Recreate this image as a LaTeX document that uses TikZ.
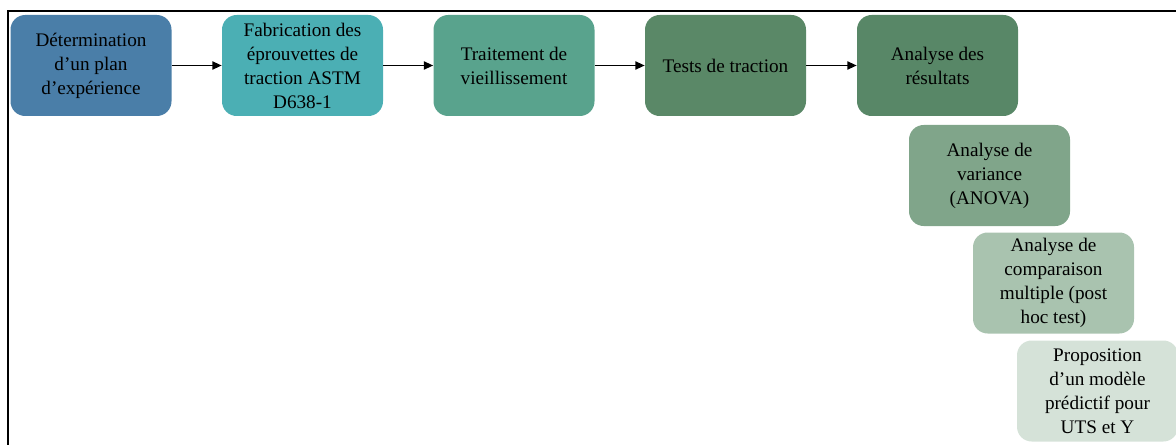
\documentclass[tikz,border=0pt]{standalone}
\usepackage{fontspec}
\setmainfont{Liberation Serif}
\usetikzlibrary{arrows.meta}
\definecolor{cA}{HTML}{4A7EA8}
\definecolor{cB}{HTML}{4BAFB4}
\definecolor{cC}{HTML}{59A38D}
\definecolor{cD}{HTML}{5A8867}
\definecolor{cE}{HTML}{588767}
\definecolor{cF}{HTML}{80A58A}
\definecolor{cG}{HTML}{A9C3AF}
\definecolor{cH}{HTML}{D5E2D8}
\tikzset{
  stepbox/.style={rounded corners=11pt, minimum width=120.75pt, minimum height=75.75pt,
    inner sep=2pt, align=center, text=black,
    font=\fontsize{14.4pt}{18pt}\selectfont},
  flow/.style={line width=1.4pt, -{Triangle[length=7pt,width=6pt]}},
  frame/.style={line width=1.6pt}
}
\begin{document}
\begin{tikzpicture}[x=0.75pt,y=-0.75pt]
\useasboundingbox (0,0) rectangle (1176,445);
% outer frame (top and left edges)
\coordinate (fTR) at (1180,11);
\coordinate (fTL) at (8,11);
\coordinate (fBL) at (8,450);
\draw[frame] (fTR) -- (fTL) -- (fBL);
% main process steps
\node[stepbox, fill=cA] (s1) at (91,65.5) {Détermination\\d’un plan\\d’expérience};
\node[stepbox, fill=cB] (s2) at (302.5,65.5) {Fabrication des\\éprouvettes de\\traction ASTM\\D638-1};
\node[stepbox, fill=cC] (s3) at (514,65.5) {Traitement de\\vieillissement};
\node[stepbox, fill=cD] (s4) at (725.5,65.5) {Tests de traction};
\node[stepbox, fill=cE] (s5) at (937.5,65.5) {Analyse des\\résultats};
% analysis sub-steps
\node[stepbox, fill=cF] (a1) at (989.5,175.5) {Analyse de\\variance\\(ANOVA)};
\node[stepbox, fill=cG] (a2) at (1053.5,283) {Analyse de\\comparaison\\multiple (post\\hoc test)};
\node[stepbox, fill=cH] (a3) at (1097.5,391) {Proposition\\d’un modèle\\prédictif pour\\UTS et Y};
% connectors
\draw[flow] (s1) -- (s2);
\draw[flow] (s2) -- (s3);
\draw[flow] (s3) -- (s4);
\draw[flow] (s4) -- (s5);
\end{tikzpicture}
\end{document}
